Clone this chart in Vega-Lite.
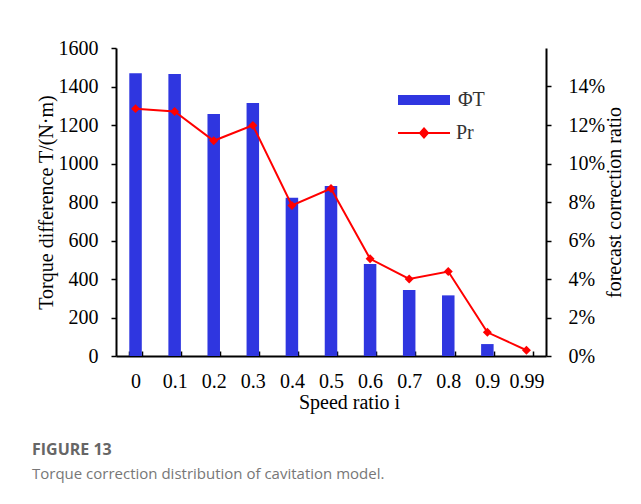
{
  "$schema": "https://vega.github.io/schema/vega-lite/v6.json",
  "width": 430,
  "height": 308,
  "autosize": "none",
  "padding": {"left": 116, "top": 48, "right": 95, "bottom": 148},
  "background": "white",
  "config": {
    "view": {"stroke": null},
    "font": "Liberation Serif",
    "axis": {
      "domainColor": "black", "domainWidth": 2, "tickColor": "black", "tickWidth": 1.5,
      "labelFont": "Liberation Serif", "labelFontSize": 20, "labelColor": "black",
      "titleFont": "Liberation Serif", "titleFontSize": 20, "titleFontWeight": "normal", "titleColor": "black",
      "grid": false
    }
  },
  "title": {
    "text": "FIGURE 13",
    "subtitle": "Torque correction distribution of cavitation model.",
    "orient": "bottom",
    "anchor": "start",
    "frame": "group",
    "dx": -84,
    "offset": 30,
    "font": "Open Sans",
    "fontSize": 16,
    "fontWeight": "bold",
    "color": "#666666",
    "subtitleFont": "Open Sans",
    "subtitleFontSize": 15,
    "subtitleColor": "#777777",
    "subtitlePadding": 9
  },
  "data": {
    "values": [
      {"i": "0", "T": 1469, "Pr": 0.1285},
      {"i": "0.1", "T": 1465, "Pr": 0.127},
      {"i": "0.2", "T": 1257, "Pr": 0.1118},
      {"i": "0.3", "T": 1314, "Pr": 0.1198},
      {"i": "0.4", "T": 822, "Pr": 0.0782},
      {"i": "0.5", "T": 883, "Pr": 0.087},
      {"i": "0.6", "T": 478, "Pr": 0.0505},
      {"i": "0.7", "T": 343, "Pr": 0.04},
      {"i": "0.8", "T": 315, "Pr": 0.0439},
      {"i": "0.9", "T": 62, "Pr": 0.0123},
      {"i": "0.99", "T": 0, "Pr": 0.003}
    ]
  },
  "encoding": {
    "x": {
      "field": "i", "type": "ordinal", "sort": null,
      "scale": {"paddingInner": 0.68, "paddingOuter": 0.34},
      "axis": {
        "title": "Speed ratio i", "labelAngle": 0, "tickBand": "extent",
        "tickSize": -5, "labelPadding": 20, "titlePadding": 1, "titleX": 233
      }
    }
  },
  "layer": [
    {
      "mark": {"type": "bar", "color": "#2f36e0"},
      "encoding": {
        "y": {
          "field": "T", "type": "quantitative",
          "scale": {"domain": [0, 1600]},
          "axis": {"title": "Torque difference T/(N·m)", "format": "d", "values": [0,200,400,600,800,1000,1200,1400,1600], "tickSize": 5, "labelPadding": 13, "titlePadding": 2}
        },
        "fill": {
          "datum": "ΦT",
          "scale": {"range": ["#2f36e0"]},
          "legend": {
            "title": null, "orient": "none", "legendX": 298, "legendY": 42,
            "symbolType": "M-5.2,-1H5.2V1H-5.2Z", "symbolSize": 100,
            "symbolStrokeWidth": 0, "symbolFillColor": "#2f36e0",
            "labelFont": "Liberation Serif", "labelFontSize": 20, "labelColor": "#333333", "labelOffset": 24
          }
        }
      }
    },
    {
      "layer": [
        {
          "mark": {"type": "line", "strokeWidth": 2},
          "encoding": {
            "y": {
              "field": "Pr", "type": "quantitative",
              "scale": {"domain": [0, 0.14]},
              "axis": {"title": "forecast correction ratio", "orient": "right", "format": ".0%", "values": [0,0.02,0.04,0.06,0.08,0.1,0.12,0.14], "tickSize": 5, "labelPadding": 17, "titlePadding": 0, "titleAngle": -90, "titleBaseline": "top"}
            },
            "stroke": {
              "datum": "Pr",
              "scale": {"range": ["#ff0000"]},
              "legend": {
                "title": null, "orient": "none", "legendX": 298, "legendY": 75,
                "symbolType": "M-5.2,0H5.2M0,-0.9L0.8,0L0,0.9L-0.8,0Z", "symbolSize": 100,
                "symbolStrokeWidth": 2, "symbolFillColor": "#ff0000", "symbolStrokeColor": "#ff0000",
                "labelFont": "Liberation Serif", "labelFontSize": 20, "labelColor": "#333333", "labelOffset": 22
              }
            }
          }
        },
        {
          "mark": {"type": "point", "shape": "diamond", "size": 80, "filled": true, "color": "#ff0000", "opacity": 1},
          "encoding": {
            "y": {"field": "Pr", "type": "quantitative"}
          }
        }
      ]
    }
  ],
  "resolve": {"scale": {"y": "independent", "fill": "independent", "stroke": "independent"}}
}
